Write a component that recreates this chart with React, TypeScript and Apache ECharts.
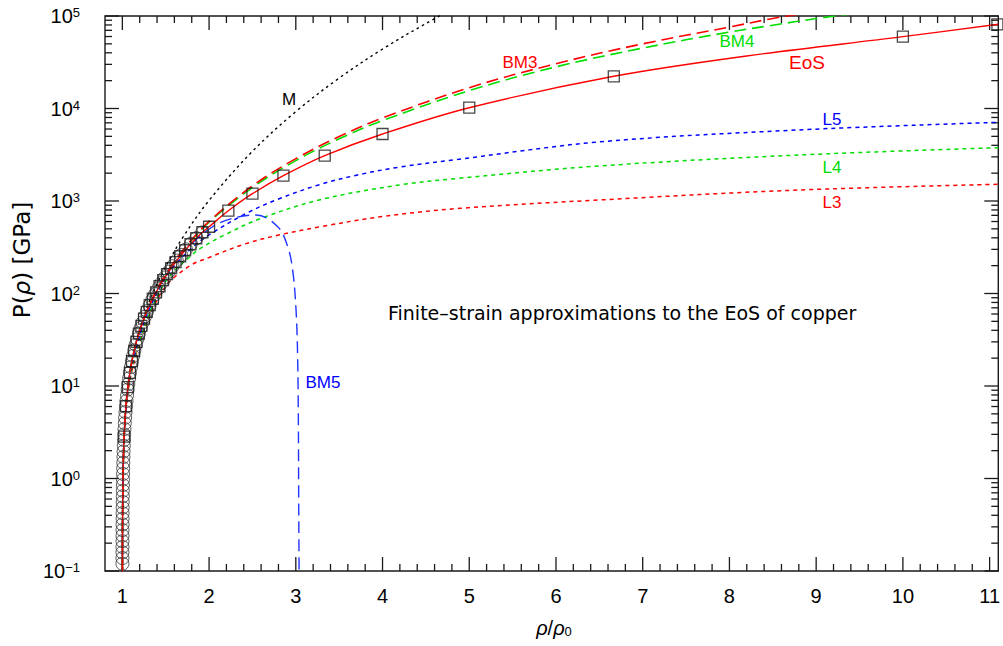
import { useEffect, useRef } from "react";
import * as echarts from "echarts";

// ---- axis ranges and tick positions ----
const X_MIN = 0.8;
const X_MAX = 11.1;
const Y_MIN = 0.1;
const Y_MAX = 100000;
const X_MAJOR = [1, 2, 3, 4, 5, 6, 7, 8, 9, 10, 11];
const X_MINOR = [
  1.2, 1.4, 1.6, 1.8, 2.2, 2.4, 2.6, 2.8, 3.2, 3.4, 3.6, 3.8, 4.2, 4.4, 4.6, 4.8,
  5.2, 5.4, 5.6, 5.8, 6.2, 6.4, 6.6, 6.8, 7.2, 7.4, 7.6, 7.8, 8.2, 8.4, 8.6, 8.8,
  9.2, 9.4, 9.6, 9.8, 10.2, 10.4, 10.6, 10.8,
];
const Y_MAJOR = [0.1, 1, 10, 100, 1000, 10000, 100000];
const Y_MINOR = [
  0.2, 0.3, 0.4, 0.5, 0.6, 0.7, 0.8, 0.9,
  2, 3, 4, 5, 6, 7, 8, 9,
  20, 30, 40, 50, 60, 70, 80, 90,
  200, 300, 400, 500, 600, 700, 800, 900,
  2000, 3000, 4000, 5000, 6000, 7000, 8000, 9000,
  20000, 30000, 40000, 50000, 60000, 70000, 80000, 90000,
];

// ---- EoS (red solid line) ----
const EOS_X = [1.0005, 1.002, 1.005, 1.01, 1.0204, 1.0417, 1.0638, 1.087, 1.1111, 1.1364, 1.1628, 1.1905, 1.2195, 1.25, 1.2821, 1.3158, 1.3514, 1.3889, 1.4286, 1.4706, 1.5152, 1.5625, 1.6129, 1.6667, 1.7241, 1.7857, 1.8519, 1.9231, 2.0, 2.2222, 2.5, 2.8571, 3.3333, 4, 5, 6.6667, 8.2, 10, 11.1];
const EOS_P = [0.0666, 0.266, 0.67, 1.35, 2.84, 6.06, 9.72, 13.88, 18.6, 23.9, 30.0, 36.8, 44.6, 53.4, 63.4, 74.8, 87.8, 102.7, 119.8, 139.4, 162, 188, 218, 252.9, 293.4, 340.6, 395.6, 459.5, 527, 785, 1199, 1877, 3088, 5301, 10200, 22300, 37000, 59800, 81300];

// ---- squares (EoS points) ----
const SQ_X = [1.0204, 1.0417, 1.0638, 1.087, 1.1111, 1.1364, 1.1628, 1.1905, 1.2195, 1.25, 1.2821, 1.3158, 1.3514, 1.3889, 1.4286, 1.4706, 1.5152, 1.5625, 1.6129, 1.6667, 1.7241, 1.7857, 1.8519, 1.9231, 2.0, 2.2222, 2.5, 2.8571, 3.3333, 4, 5, 6.6667, 10, 11.09];
const SQ_P = [2.84, 6.06, 9.72, 13.88, 18.6, 23.9, 30.0, 36.8, 44.6, 53.4, 63.4, 74.8, 87.8, 102.7, 119.8, 139.4, 162, 188, 218, 252.9, 293.4, 340.6, 395.6, 459.5, 527, 785, 1199, 1877, 3088, 5301, 10200, 22300, 59800, 81000];

// ---- circles (dense data near rho/rho0 = 1) ----
const CI_X = [1.0009, 1.00103, 1.0012, 1.00137, 1.00158, 1.00181, 1.00208, 1.0024, 1.00275, 1.00316, 1.00363, 1.00417, 1.0048, 1.0055, 1.00633, 1.00727, 1.00833, 1.0096, 1.011, 1.0127, 1.0145, 1.0166, 1.019, 1.0214, 1.0245, 1.028, 1.032, 1.0365, 1.0413, 1.0478, 1.0543, 1.0609, 1.0688, 1.0781, 1.0871, 1.0987, 1.1101, 1.1238, 1.1383, 1.1544, 1.172, 1.1906, 1.2122, 1.2347, 1.2596, 1.2859, 1.3144, 1.3452, 1.3782, 1.4135, 1.4512, 1.4904, 1.5342, 1.5784, 1.6276, 1.6789, 1.7333, 1.7914, 1.8536, 1.9228];
const CI_P = [0.12, 0.138, 0.159, 0.182, 0.21, 0.241, 0.277, 0.319, 0.367, 0.422, 0.485, 0.558, 0.642, 0.738, 0.849, 0.976, 1.12, 1.29, 1.48, 1.71, 1.96, 2.26, 2.6, 2.99, 3.43, 3.95, 4.54, 5.22, 6.0, 6.9, 7.94, 9.13, 10.5, 12.1, 13.9, 16.0, 18.4, 21.1, 24.3, 27.9, 32.1, 36.9, 42.5, 48.8, 56.2, 64.6, 74.3, 85.4, 98.2, 113, 130, 149, 172, 197, 227, 261, 300, 345, 397, 457];

// ---- BM3 (red dashed) and BM4 (green dashed) ----
const BM_X = [1.0005, 1.002, 1.005, 1.01, 1.02, 1.04, 1.07, 1.1, 1.15, 1.2, 1.3, 1.4, 1.5, 1.7, 2.0, 2.5, 3, 3.5, 4, 5, 6, 7, 8, 8.5, 9, 9.5];
const BM3_P = [0.0666, 0.267, 0.672, 1.36, 2.78, 5.8, 10.8, 16.4, 27.1, 39.7, 70.9, 111, 161, 296, 601, 1457, 2869, 4981, 7900, 16800, 30500, 50000, 76000, 94000, 112000, 132000];
const BM4_P = [0.0666, 0.267, 0.672, 1.36, 2.78, 5.8, 10.8, 16.4, 27.0, 39.5, 70.4, 110, 159, 291, 589, 1400, 2732, 4700, 7400, 15600, 28200, 45000, 67000, 79500, 93800, 108000];

// ---- BM5 (blue dashed) ----
const BM5_X = [1.0005, 1.002, 1.005, 1.01, 1.02, 1.04, 1.07, 1.1, 1.15, 1.2, 1.3, 1.4, 1.5, 1.7, 2.04, 2.3, 2.544, 2.792, 2.907, 2.964, 3.003, 3.022, 3.03, 3.033, 3.036, 3.04];
const BM5_P = [0.0666, 0.267, 0.672, 1.36, 2.78, 5.8, 10.8, 16.4, 27.0, 39.5, 70, 108, 155, 278, 527, 660, 706, 527, 321, 179, 66, 19, 3.6, 0.7, 0.2, 0.05];

// ---- M (black dotted) ----
const M_X = [1.0005, 1.002, 1.005, 1.01, 1.02, 1.04, 1.07, 1.1, 1.15, 1.2, 1.3, 1.4, 1.5, 1.7, 2.0, 2.5, 3, 3.5, 4, 4.5, 4.8];
const M_P = [0.0665, 0.2665, 0.67, 1.355, 2.77, 5.77, 10.7, 16.6, 27.8, 41.3, 76.9, 127, 195, 408, 1015, 3446, 9258, 21330, 43890, 83000, 118000];

// ---- L3 / L4 / L5 (dotted) ----
const L3_X = [1.0005, 1.002, 1.005, 1.01, 1.02, 1.04, 1.07, 1.1, 1.15, 1.2, 1.3, 1.4, 1.5, 1.6, 1.8, 2.0, 2.4, 2.8, 3.3, 4, 4.9, 6.5, 8.8, 11.1];
const L3_P = [0.0665, 0.266, 0.665, 1.33, 2.64, 5.3, 9.2, 13.3, 20.2, 30, 55, 85, 120, 150, 205, 245, 340, 428, 530, 680, 834, 1026, 1315, 1515];
const L4_X = [1.0005, 1.002, 1.005, 1.01, 1.02, 1.04, 1.07, 1.1, 1.15, 1.2, 1.3, 1.4, 1.5, 1.6, 1.8, 1.9, 2.2, 2.6, 3.27, 4.19, 4.88, 6.49, 8.79, 11.1];
const L4_P = [0.0665, 0.266, 0.668, 1.34, 2.7, 5.5, 9.8, 14.5, 21.5, 31, 58, 92, 135, 175, 260, 308, 440, 650, 1026, 1489, 1760, 2390, 3140, 3770];
const L5_X = [1.0005, 1.002, 1.005, 1.01, 1.02, 1.04, 1.07, 1.1, 1.15, 1.2, 1.3, 1.4, 1.5, 1.6, 1.8, 2.0, 2.43, 2.8, 3.27, 3.7, 4.19, 4.88, 6.49, 8.79, 11.1];
const L5_P = [0.0666, 0.267, 0.67, 1.35, 2.75, 5.65, 10.3, 15.5, 23, 35, 64, 102, 150, 200, 310, 430, 736, 1050, 1500, 1900, 2320, 2825, 4345, 5860, 7090];

const RED = "#ff0000";
const GREEN = "#00dd00";
const BLUE = "#0000ff";
const BLUE5 = "#2035ff";
const SANS = "'Liberation Sans', Arial, Helvetica, sans-serif";
const WIDE = "'DejaVu Sans', 'Liberation Sans', sans-serif";

const pairs = (xs: number[], ys: number[]) => xs.map((x, i) => [x, ys[i]]);

export default function App() {
  const ref = useRef<HTMLDivElement>(null);

  useEffect(() => {
    const chart = echarts.init(ref.current!, null, { renderer: "svg" });

    const tickData = [
      ...X_MAJOR.map((v) => [v, 1, 0]),
      ...X_MINOR.map((v) => [v, 1, 1]),
      ...Y_MAJOR.map((v) => [1, v, 2]),
      ...Y_MINOR.map((v) => [1, v, 3]),
    ];

    const line = (name: string, xs: number[], ys: number[], color: string, type: any, width: number) => ({
      type: "line",
      name,
      data: pairs(xs, ys),
      showSymbol: false,
      symbol: "none",
      smooth: 0.35,
      clip: true,
      silent: true,
      z: 3,
      lineStyle: { color, width, type },
    });

    const label = (text: string, x: number, y: number, color: string, size: number) => ({
      type: "text",
      x,
      y,
      silent: true,
      style: {
        text,
        fill: color,
        fontSize: size,
        fontFamily: SANS,
        align: "center",
        verticalAlign: "middle",
      },
    });

    const option: any = {
      animation: false,
      backgroundColor: "#ffffff",
      grid: {
        left: 105,
        top: 16,
        width: 897,
        height: 555,
        show: true,
        borderColor: "#1a1a1a",
        borderWidth: 1.4,
        backgroundColor: "transparent",
      },
      xAxis: {
        type: "value",
        min: X_MIN,
        max: X_MAX,
        interval: 0.2,
        axisLine: { show: false },
        axisTick: { show: false },
        splitLine: { show: false },
        axisLabel: {
          margin: 15,
          color: "#000",
          fontSize: 20,
          fontFamily: SANS,
          formatter: (v: number) =>
            Math.abs(v - Math.round(v)) < 1e-6 && v > 0.9 ? String(Math.round(v)) : "",
        },
      },
      yAxis: {
        type: "log",
        logBase: 10,
        min: Y_MIN,
        max: Y_MAX,
        interval: 1,
        axisLine: { show: false },
        axisTick: { show: false },
        splitLine: { show: false },
        axisLabel: {
          margin: 25,
          color: "#000",
          formatter: (v: number) => {
            const e = Math.round(Math.log10(v));
            return "{b|10}{s|" + (e < 0 ? "\u2212" + -e : String(e)) + "}";
          },
          rich: {
            b: { fontSize: 20, lineHeight: 20, fontFamily: SANS, color: "#000", verticalAlign: "bottom", padding: [2, 0, 0, 0] },
            s: { fontSize: 13, lineHeight: 13, fontFamily: SANS, color: "#000", verticalAlign: "top" },
          },
        },
      },
      graphic: [
        label("M", 289, 99, "#000", 17),
        label("BM3", 520, 62, RED, 17),
        label("BM4", 737, 41, GREEN, 17),
        label("EoS", 807, 62, RED, 19),
        label("L5", 832, 119, BLUE, 17),
        label("L4", 832, 167, GREEN, 17),
        label("L3", 832, 202, RED, 17),
        label("BM5", 323, 382, BLUE, 17),
        {
          type: "text",
          x: 388,
          y: 313,
          silent: true,
          style: {
            text: "Finite\u2013strain approximations to the EoS of copper",
            fill: "#000",
            fontSize: 19,
            fontFamily: WIDE,
            align: "left",
            verticalAlign: "middle",
          },
        },
        {
          type: "text",
          x: 554,
          y: 628,
          silent: true,
          style: {
            text: "{i|\u03c1}{n|/}{i|\u03c1}{d|0}",
            align: "center",
            verticalAlign: "middle",
            rich: {
              i: { fontSize: 20, fontStyle: "italic", fontFamily: SANS, fill: "#000", lineHeight: 20, verticalAlign: "top", padding: [0, 0, 4, 0] },
              n: { fontSize: 20, fontFamily: SANS, fill: "#000", lineHeight: 20, verticalAlign: "top", padding: [0, 0, 4, 0] },
              d: { fontSize: 13, fontFamily: SANS, fill: "#000", lineHeight: 13, verticalAlign: "bottom" },
            },
          },
        },
        {
          type: "text",
          x: 22,
          y: 260,
          rotation: Math.PI / 2,
          silent: true,
          style: {
            text: "{n|P(}{i|\u03c1}{n|) [GPa]}",
            align: "center",
            verticalAlign: "middle",
            rich: {
              n: { fontSize: 23, fontFamily: WIDE, fill: "#000" },
              i: { fontSize: 23, fontStyle: "italic", fontFamily: WIDE, fill: "#000" },
            },
          },
        },
      ],
      series: [
        {
          type: "custom",
          name: "ticks",
          silent: true,
          clip: false,
          z: 1,
          data: tickData,
          encode: { x: 0, y: 1 },
          renderItem: (_p: any, api: any) => {
            const k = api.value(2);
            const st = { stroke: "#1a1a1a", lineWidth: 1.3 };
            if (k < 2) {
              const v = api.value(0);
              const b = api.coord([v, Y_MIN]);
              const t = api.coord([v, Y_MAX]);
              const len = k === 0 ? 14 : 7;
              return {
                type: "group",
                children: [
                  { type: "line", shape: { x1: b[0], y1: b[1], x2: b[0], y2: b[1] - len }, style: st },
                  { type: "line", shape: { x1: t[0], y1: t[1], x2: t[0], y2: t[1] + len }, style: st },
                ],
              };
            }
            const v = api.value(1);
            const l = api.coord([X_MIN, v]);
            const r = api.coord([X_MAX, v]);
            const len = k === 2 ? 14 : 7;
            return {
              type: "group",
              children: [
                { type: "line", shape: { x1: l[0], y1: l[1], x2: l[0] + len, y2: l[1] }, style: st },
                { type: "line", shape: { x1: r[0], y1: r[1], x2: r[0] - len, y2: r[1] }, style: st },
              ],
            };
          },
        },
        line("M", M_X, M_P, "#000", [2.5, 3.5], 1.4),
        line("L3", L3_X, L3_P, RED, [4, 4], 1.5),
        line("L4", L4_X, L4_P, GREEN, [4, 4], 1.5),
        line("L5", L5_X, L5_P, BLUE, [4, 4], 1.5),
        line("BM5", BM5_X, BM5_P, BLUE5, [12, 6], 1.4),
        line("BM4", BM_X, BM4_P, GREEN, [12, 6], 1.6),
        line("BM3", BM_X, BM3_P, RED, [12, 6], 1.6),
        line("EoS", EOS_X, EOS_P, RED, "solid", 1.4),
        {
          type: "scatter",
          name: "circles",
          data: pairs(CI_X, CI_P),
          symbol: "circle",
          symbolSize: 13,
          silent: true,
          z: 4,
          itemStyle: { color: "rgba(0,0,0,0)", borderColor: "#333", borderWidth: 1 },
        },
        {
          type: "scatter",
          name: "squares",
          data: pairs(SQ_X, SQ_P),
          symbol: "rect",
          symbolSize: 11,
          silent: true,
          clip: false,
          z: 5,
          itemStyle: { color: "rgba(0,0,0,0)", borderColor: "#1a1a1a", borderWidth: 1.3 },
        },
      ],
    };

    chart.setOption(option);
    return () => chart.dispose();
  }, []);

  return (
    <div
      ref={ref}
      style={{ position: "fixed", left: 0, top: 0, width: 1003, height: 646, background: "#fff" }}
    />
  );
}
